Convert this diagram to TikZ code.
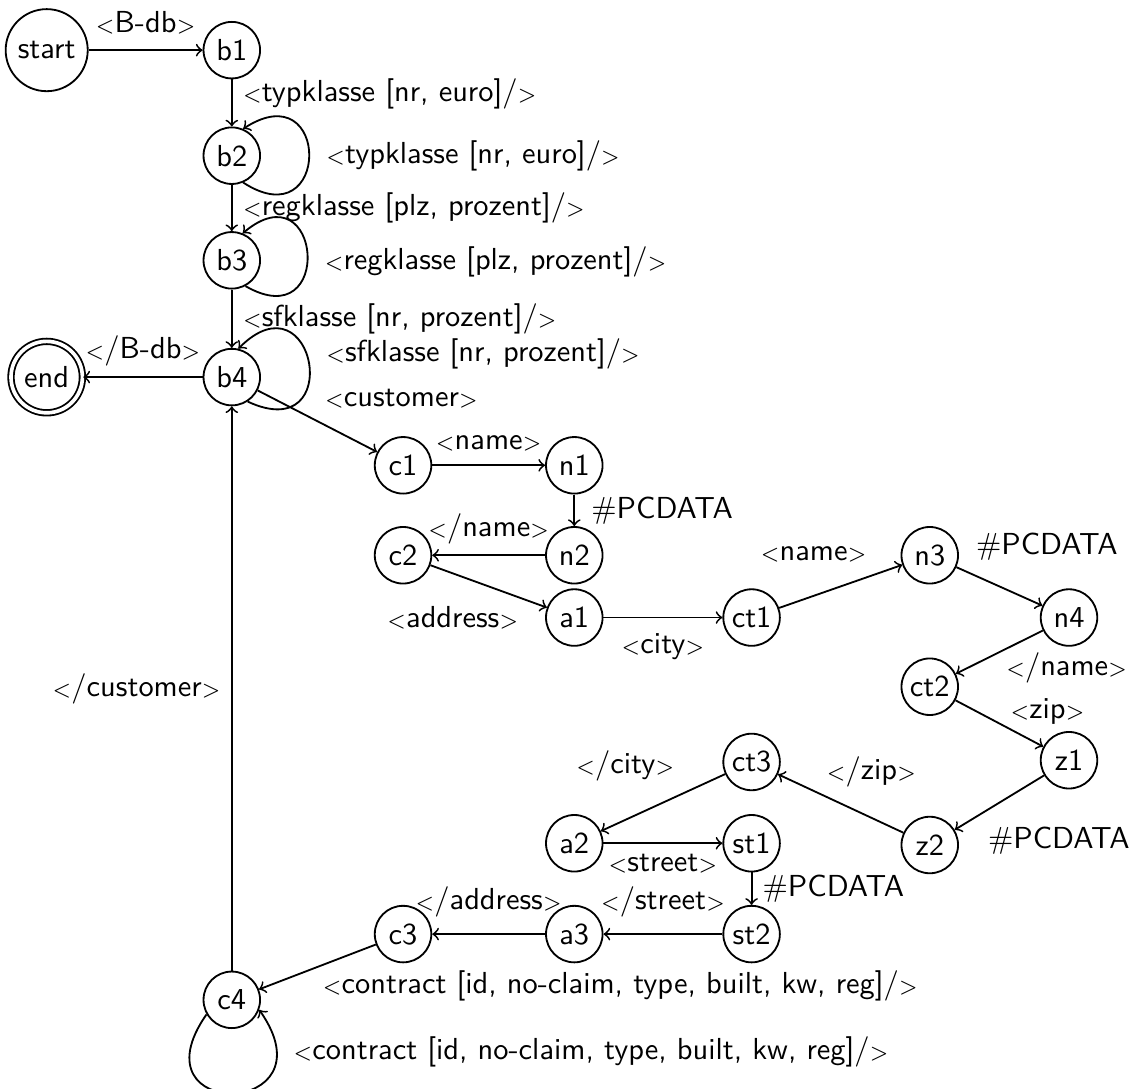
\documentclass[tikz,border=0pt]{standalone}
\usepackage{amsmath}

% 标签中的尖括号（小号）与斜杠
\newcommand{\tagopen}[1]{$\scriptstyle<$#1$\scriptstyle>$}
\newcommand{\tagclose}[1]{$\scriptstyle<$$/$#1$\scriptstyle>$}
\newcommand{\tagempty}[1]{$\scriptstyle<$#1$/\scriptstyle>$}

\begin{document}
\begin{tikzpicture}[
    font=\sffamily,
    % 普通状态（圆圈）
    statenode/.style={draw, circle, semithick, minimum size=18.6pt, inner sep=0pt},
    % 初始状态（大圆圈）
    startnode/.style={statenode, minimum size=27pt},
    % 终止状态（双圆圈）
    endnode/.style={statenode, double, double distance=1.2pt, minimum size=23.5pt},
    % 转移箭头
    trans/.style={->, semithick}
]

    % 0. 固定画布大小
    \useasboundingbox (0,0) rectangle (13.10,-12.58);

    % 1. 各列的横坐标
    \def\xS{0.54}    % start / end
    \def\xB{2.68}    % b1 ... b4, c4
    \def\xC{4.66}    % c1, c2, c3
    \def\xA{6.64}    % n1, n2, a1, a2, a3
    \def\xT{8.69}    % ct1, ct3, st1, st2
    \def\xN{10.75}   % n3, ct2, z2
    \def\xZ{12.36}   % n4, z1

    % 2. 状态结点
    \node[startnode] (start) at (\xS, -0.58) {start};
    \node[statenode] (b1) at (\xB, -0.58) {b1};
    \node[statenode] (b2) at (\xB, -1.80) {b2};
    \node[statenode] (b3) at (\xB, -3.01) {b3};
    \node[statenode] (b4) at (\xB, -4.36) {b4};
    \node[endnode]   (end) at (\xS, -4.36) {end};

    \node[statenode] (c1) at (\xC, -5.38) {c1};
    \node[statenode] (n1) at (\xA, -5.38) {n1};
    \node[statenode] (n2) at (\xA, -6.42) {n2};
    \node[statenode] (c2) at (\xC, -6.42) {c2};
    \node[statenode] (a1) at (\xA, -7.14) {a1};
    \node[statenode] (ct1) at (\xT, -7.14) {ct1};
    \node[statenode] (n3) at (\xN, -6.42) {n3};
    \node[statenode] (n4) at (\xZ, -7.14) {n4};
    \node[statenode] (ct2) at (\xN, -7.94) {ct2};
    \node[statenode] (z1) at (\xZ, -8.79) {z1};
    \node[statenode] (z2) at (\xN, -9.77) {z2};
    \node[statenode] (ct3) at (\xT, -8.81) {ct3};
    \node[statenode] (a2) at (\xA, -9.75) {a2};
    \node[statenode] (st1) at (\xT, -9.75) {st1};
    \node[statenode] (st2) at (\xT, -10.80) {st2};
    \node[statenode] (a3) at (\xA, -10.80) {a3};
    \node[statenode] (c3) at (\xC, -10.80) {c3};
    \node[statenode] (c4) at (\xB, -11.56) {c4};

    % 3. B-db 部分
    \draw[trans] (start) -- node[above=1.5pt] {\tagopen{B-db}} (b1);
    \draw[trans] (b1) -- node[right, pos=0.3] {\tagempty{typklasse [nr, euro]}} (b2);
    \draw[trans] (b2.-67) to[out=-33, in=33, looseness=5]
        node[right=2pt] {\tagempty{typklasse [nr, euro]}} (b2.67);
    \draw[trans] (b2) -- node[right] {\tagempty{regklasse [plz, prozent]}} (b3);
    \draw[trans] (b3.-62) to[out=-30, in=40, looseness=5]
        node[right=2pt, yshift=-2.5pt] {\tagempty{regklasse [plz, prozent]}} (b3.68);
    \draw[trans] (b3) -- node[right] {\tagempty{sfklasse [nr, prozent]}} (b4);
    \draw[trans] (b4.-57) to[out=-25, in=45, looseness=5.2]
        node[right=2pt, yshift=3pt] {\tagempty{sfklasse [nr, prozent]}} (b4.77);
    \draw[trans] (b4) -- node[above] {\tagclose{B-db}} (end);

    % 4. customer / name
    \draw[trans] (b4) -- node[above right, pos=0.47] {\tagopen{customer}} (c1);
    \draw[trans] (c1) -- node[above=1pt] {\tagopen{name}} (n1);
    \draw[trans] (n1) -- node[right=2pt] {\#PCDATA} (n2);
    \draw[trans] (n2) -- node[above] {\tagclose{name}} (c2);

    % 5. address / city / zip
    \draw[trans] (c2) -- node[below left, pos=0.85, yshift=2pt] {\tagopen{address}} (a1);
    \draw[trans] (a1) -- node[below=1.5pt] {\tagopen{city}} (ct1);
    \draw[trans] (ct1) -- node[above left, pos=0.8] {\tagopen{name}} (n3);
    \draw[trans] (n3) -- node[above right, pos=0.1] {\#PCDATA} (n4);
    \draw[trans] (n4) -- node[below right, pos=0.55, yshift=4pt] {\tagclose{name}} (ct2);
    \draw[trans] (ct2) -- node[above right, pos=0.5, yshift=-4pt] {\tagopen{zip}} (z1);
    \draw[trans] (z1) -- node[below right, pos=0.75] {\#PCDATA} (z2);
    \draw[trans] (z2) -- node[above right, pos=0.7, yshift=-2pt] {\tagclose{zip}} (ct3);
    \draw[trans] (ct3) -- node[above left, pos=0.32] {\tagclose{city}} (a2);

    % 6. street
    \draw[trans] (a2) -- node[below] {\tagopen{street}} (st1);
    \draw[trans] (st1) -- node[right] {\#PCDATA} (st2);
    \draw[trans] (st2) -- node[above=2pt] {\tagclose{street}} (a3);
    \draw[trans] (a3) -- node[above=2pt] {\tagclose{address}} (c3);

    % 7. contract 与返回 b4
    \draw[trans] (c3) -- node[below right, pos=0.55, yshift=3pt]
        {\tagempty{contract [id, no-claim, type, built, kw, reg]}} (c4);
    \draw[trans] (c4.-150) to[out=-125, in=-55, looseness=6.4]
        node[right=2pt, pos=0.85] {\tagempty{contract [id, no-claim, type, built, kw, reg]}} (c4.-20);
    \draw[trans] (c4) -- node[left] {\tagclose{customer}} (b4);

\end{tikzpicture}
\end{document}
